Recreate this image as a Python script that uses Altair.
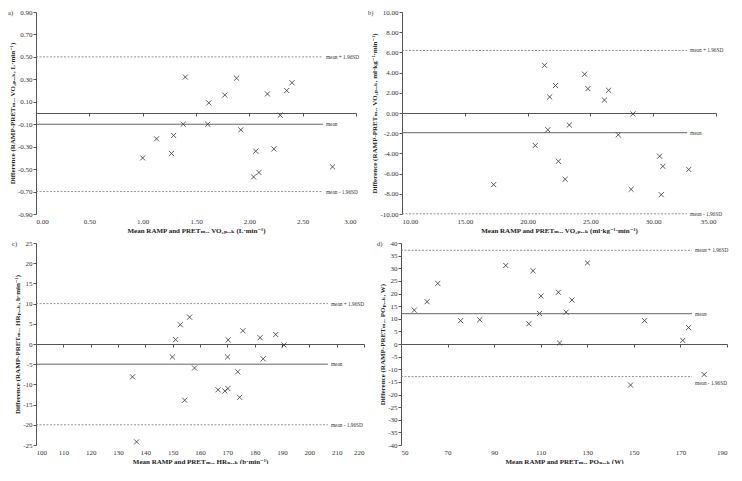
import altair as alt
import pandas as pd

# ---------------- data ----------------
a_x = [1.40, 1.88, 1.77, 2.17, 2.35, 2.40, 1.62, 2.29, 1.38, 1.61, 1.92, 1.13, 1.29, 1.27, 1.00, 2.06, 2.23, 2.04, 2.09, 2.78]
a_y = [0.32, 0.31, 0.16, 0.17, 0.20, 0.27, 0.09, -0.02, -0.10, -0.10, -0.15, -0.23, -0.20, -0.36, -0.40, -0.34, -0.32, -0.57, -0.53, -0.48]
a_lines = [0.50, -0.10, -0.70]
a_xend = 2.69

b_x = [21.35, 24.54, 22.22, 24.80, 26.45, 21.76, 26.12, 28.39, 23.32, 21.61, 27.22, 20.61, 22.45, 30.51, 30.77, 32.83, 22.99, 17.30, 28.24, 30.64]
b_y = [4.72, 3.84, 2.72, 2.41, 2.25, 1.59, 1.28, -0.09, -1.19, -1.66, -2.16, -3.22, -4.78, -4.28, -5.28, -5.59, -6.56, -7.09, -7.56, -8.09]
b_lines = [6.19, -1.95, -9.98]
b_xend = 32.7

c_x = [156.2, 152.8, 175.7, 187.7, 182.0, 151.1, 170.3, 190.7, 149.9, 170.1, 183.1, 158.0, 173.8, 135.3, 170.2, 166.6, 169.1, 174.5, 154.4, 136.8]
c_y = [6.64, 4.77, 3.28, 2.34, 1.56, 1.09, 1.02, -0.23, -3.20, -3.20, -3.67, -5.94, -6.88, -8.13, -11.02, -11.33, -11.64, -13.2, -13.91, -24.22]
c_lines = [10.0, -5.0, -20.0]
c_xend = 206.8

d_x = [55.7, 61.2, 65.8, 75.6, 83.8, 95.0, 106.7, 104.9, 110.1, 109.5, 117.6, 118.1, 123.4, 120.9, 130.1, 154.6, 171.0, 173.5, 180.2, 148.6]
d_y = [13.4, 16.75, 24.0, 9.25, 9.6, 31.1, 29.0, 8.0, 19.0, 12.1, 20.5, 0.4, 17.4, 12.6, 32.1, 9.25, 1.4, 6.5, -12.1, -16.25]
d_lines = [37.1, 12.0, -12.9]
d_xend = 175.0

line_labels = ["mean + 1.96SD", "mean", "mean - 1.96SD"]

a_xticks = [0.0, 0.5, 1.0, 1.5, 2.0, 2.5, 3.0]
a_yticks = [-0.9, -0.7, -0.5, -0.3, -0.1, 0.1, 0.3, 0.5, 0.7, 0.9]
b_xticks = [10, 15, 20, 25, 30, 35]
b_yticks = [-10, -8, -6, -4, -2, 0, 2, 4, 6, 8, 10]
c_xticks = [100, 110, 120, 130, 140, 150, 160, 170, 180, 190, 200, 210, 220]
c_yticks = [-25, -20, -15, -10, -5, 0, 5, 10, 15, 20, 25]
d_xticks = [50, 70, 90, 110, 130, 150, 170, 190]
d_yticks = [-40, -35, -30, -25, -20, -15, -10, -5, 0, 5, 10, 15, 20, 25, 30, 35, 40]

FONT = "Liberation Serif, DejaVu Serif, DejaVu Sans"
XPATH = "M-1,-1L1,1M-1,1L1,-1"
MINUS = "\u2212"


def fmt_expr(f):
    return "replace(format(datum.value, '%s'), '%s', '-')" % (f, MINUS)


def panel(tag, xs, ys, xdom, xticks, ydom, yticks, lines, xend, xfmt, yfmt,
          xtitle, ytitle, w, h, tag_x, low_dy=0):
    pts = pd.DataFrame({"x": xs, "y": ys})
    ln = pd.DataFrame({"xs": [xdom[0]] * 3, "xe": [xend] * 3, "y": lines, "lab": line_labels})
    mean_df = ln.iloc[[1]]
    lim_df = ln.iloc[[0, 2]]

    xsc = alt.Scale(domain=xdom, nice=False, zero=False)
    ysc = alt.Scale(domain=ydom, nice=False, zero=False)
    zero_off = -h * (0 - ydom[0]) / (ydom[1] - ydom[0])

    yax = alt.Axis(values=yticks, labelExpr=fmt_expr(yfmt), title=ytitle, grid=False,
                   domain=True, ticks=True, tickSize=3, domainColor="#555", tickColor="#555",
                   labelPadding=1, titlePadding=2)
    xax = alt.Axis(values=xticks, labelExpr=fmt_expr(xfmt), title=xtitle, grid=False,
                   domain=False, ticks=False, labelPadding=3, titlePadding=2, orient="bottom")
    zax = alt.Axis(values=xticks, labels=False, title=None, grid=False, domain=True,
                   ticks=True, tickSize=3, orient="bottom", offset=zero_off,
                   domainColor="#555", tickColor="#555")

    points = alt.Chart(pts).mark_point(shape=XPATH, filled=False, size=26, strokeWidth=0.8,
                                       color="#333", opacity=1).encode(
        x=alt.X("x:Q", scale=xsc, axis=xax),
        y=alt.Y("y:Q", scale=ysc, axis=yax),
    )
    mean_rule = alt.Chart(mean_df).mark_rule(color="#555", strokeWidth=0.9).encode(
        x=alt.X("xs:Q", scale=xsc, axis=zax),
        x2="xe:Q",
        y=alt.Y("y:Q", scale=ysc, axis=yax),
    )
    lim_rule = alt.Chart(lim_df).mark_rule(color="#777", strokeWidth=0.8, strokeDash=[2, 1.5]).encode(
        x=alt.X("xs:Q", scale=xsc, axis=None),
        x2="xe:Q",
        y=alt.Y("y:Q", scale=ysc, axis=yax),
    )
    layers = [points, mean_rule, lim_rule]
    tstyle = dict(align="left", baseline="middle", dx=3, fontSize=5.3, font=FONT, color="#333")
    if low_dy:
        layers.append(alt.Chart(ln.iloc[[0, 1]]).mark_text(**tstyle).encode(
            x=alt.X("xe:Q", scale=xsc, axis=None), y=alt.Y("y:Q", scale=ysc, axis=yax), text="lab:N"))
        layers.append(alt.Chart(ln.iloc[[2]]).mark_text(dy=low_dy, **tstyle).encode(
            x=alt.X("xe:Q", scale=xsc, axis=None), y=alt.Y("y:Q", scale=ysc, axis=yax), text="lab:N"))
    else:
        layers.append(alt.Chart(ln).mark_text(**tstyle).encode(
            x=alt.X("xe:Q", scale=xsc, axis=None), y=alt.Y("y:Q", scale=ysc, axis=yax), text="lab:N"))
    tag_layer = alt.Chart(pd.DataFrame({"t": [tag]})).mark_text(
        align="left", baseline="top", fontSize=6.5, font=FONT, color="#333").encode(
        x=alt.value(tag_x), y=alt.value(-2), text="t:N")
    layers.append(tag_layer)

    return alt.layer(*layers).resolve_scale(x="independent").resolve_axis(x="independent").properties(
        width=w, height=h)


H = 202
SUB_MAX = "\u2098\u2090\u2093"
SUB_PEAK = "\u209a\u2091\u2090\u2096"
pa = panel("a)", a_x, a_y, [0, 3], a_xticks, [-0.9, 0.9], a_yticks, a_lines, a_xend, ".2f", ".2f",
           "Mean RAMP and PRET" + SUB_MAX + " VO\u2082" + SUB_PEAK + " (L\u00b7min\u207b\u00b9)",
           "Difference (RAMP-PRET" + SUB_MAX + " VO\u2082" + SUB_PEAK + ", L\u00b7min\u207b\u00b9)",
           320, H, -28)
pb = panel("b)", b_x, b_y, [10, 35], b_xticks, [-10, 10], b_yticks, b_lines, b_xend, ".2f", ".2f",
           "Mean RAMP and PRET" + SUB_MAX + " VO\u2082" + SUB_PEAK + " (ml\u00b7kg\u207b\u00b9\u00b7min\u207b\u00b9)",
           "Difference (RAMP-PRET" + SUB_MAX + " VO\u2082" + SUB_PEAK + ", ml\u00b7kg\u207b\u00b9\u00b7min\u207b\u00b9)",
           314, H, -34)
pc = panel("c)", c_x, c_y, [100, 220], c_xticks, [-25, 25], c_yticks, c_lines, c_xend, "d", "d",
           "Mean RAMP and PRET" + SUB_MAX + " HR" + SUB_PEAK + " (b\u00b7min\u207b\u00b9)",
           "Difference (RAMP-PRET" + SUB_MAX + " HR" + SUB_PEAK + ", b\u00b7min\u207b\u00b9)",
           328, H, -24)
pd_ = panel("d)", d_x, d_y, [50, 190], d_xticks, [-40, 40], d_yticks, d_lines, d_xend, "d", "d",
            "Mean RAMP and PRET" + SUB_MAX + " PO" + SUB_PEAK + " (W)",
            "Difference (RAMP-PRET" + SUB_MAX + " PO" + SUB_PEAK + ", W)",
            326, H, -24, low_dy=6)

row1 = alt.hconcat(pa, pb, spacing=8)
row2 = alt.hconcat(pc, pd_, spacing=12)
chart = alt.vconcat(row1, row2, spacing=6).properties(padding=0).configure(
    font=FONT
).configure_view(stroke=None).configure_axis(
    labelFont=FONT, titleFont=FONT, labelFontSize=7, titleFontSize=7, titleFontWeight="bold",
    labelColor="#333", titleColor="#222"
)

chart.save("out.html", embed_options={"renderer": "svg", "actions": False})
